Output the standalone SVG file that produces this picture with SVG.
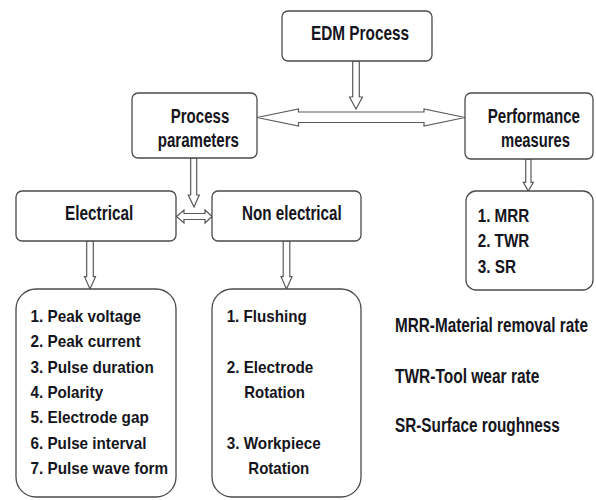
<svg xmlns="http://www.w3.org/2000/svg" width="596" height="500" viewBox="0 0 596 500">
<style>
  .box { fill: #ffffff; stroke: #4a4a4a; stroke-width: 1.3; }
  .arr { fill: #ffffff; stroke: #5a5a5a; stroke-width: 1.2; stroke-linejoin: miter; }
  text { font-family: "Liberation Sans", Arial, sans-serif; font-weight: bold; fill: #151520; }
  .t21 { font-size: 21px; }
  .t20 { font-size: 20px; }
  .t17 { font-size: 17px; }
  .t18 { font-size: 18px; }
</style>
<rect width="596" height="500" fill="#ffffff"/>

<g id="connectors">
  <polygon class="arr" points="352.7,61 359.3,61 359.3,97 362.5,97 356,109 349.5,97 352.7,97"/>
  <polygon class="arr" points="257,117.5 298.5,109 298.5,112 424,112 424,109 465,117.5 424,126 424,122.5 298.5,122.5 298.5,126"/>
  <polygon class="arr" points="190.7,158 196.7,158 196.7,195 199.3,195 194,207 188.3,195 190.7,195"/>
  <polygon class="arr" points="176.5,216.5 184,210 184,213.5 205,213.5 205,210 212,216.5 205,223 205,219.5 184,219.5 184,223"/>
  <polygon class="arr" points="86.7,241 93.3,241 93.3,276.7 95.5,276.7 90,289 84.5,276.7 86.7,276.7"/>
  <polygon class="arr" points="283.2,241 289.8,241 289.8,276.7 292,276.7 286.5,289 281,276.7 283.2,276.7"/>
  <polygon class="arr" points="525.7,159 531,159 531,182.3 533.3,182.3 528.3,191 523.3,182.3 525.7,182.3"/>
</g>

<g id="edm-process">
  <rect class="box" x="282" y="11" width="150" height="50" rx="6"/>
  <text class="t21" x="311" y="40" textLength="98" lengthAdjust="spacingAndGlyphs">EDM Process</text>
</g>

<g id="process-parameters">
  <rect class="box" x="132" y="93" width="125" height="65" rx="6"/>
  <text class="t20" x="170.7" y="123" textLength="58.6" lengthAdjust="spacingAndGlyphs">Process</text>
  <text class="t20" x="157.7" y="147" textLength="81.3" lengthAdjust="spacingAndGlyphs">parameters</text>
</g>

<g id="performance-measures">
  <rect class="box" x="465" y="93" width="128" height="66" rx="6"/>
  <text class="t20" transform="matrix(0.755 0 0 1 487.7 123)">Performance</text>
  <text class="t20" x="501" y="147" textLength="69" lengthAdjust="spacingAndGlyphs">measures</text>
</g>

<g id="electrical">
  <rect class="box" x="16" y="191" width="160" height="50" rx="6"/>
  <text class="t20" x="65" y="220" textLength="68.3" lengthAdjust="spacingAndGlyphs">Electrical</text>
</g>

<g id="non-electrical">
  <rect class="box" x="212" y="191" width="149" height="50" rx="6"/>
  <text class="t20" x="242" y="220" textLength="99.7" lengthAdjust="spacingAndGlyphs">Non electrical</text>
</g>

<g id="electrical-list">
  <rect class="box" x="16" y="289" width="160" height="208" rx="20"/>
  <text class="t17" x="30.5" y="322" textLength="110.5" lengthAdjust="spacingAndGlyphs">1. Peak voltage</text>
  <text class="t17" x="30.5" y="347.3" textLength="110" lengthAdjust="spacingAndGlyphs">2. Peak current</text>
  <text class="t17" x="30.5" y="372.6" textLength="123.3" lengthAdjust="spacingAndGlyphs">3. Pulse duration</text>
  <text class="t17" x="30.5" y="397.9" textLength="72.6" lengthAdjust="spacingAndGlyphs">4. Polarity</text>
  <text class="t17" x="30.5" y="423.2" textLength="118.3" lengthAdjust="spacingAndGlyphs">5. Electrode gap</text>
  <text class="t17" x="30.5" y="448.5" textLength="116" lengthAdjust="spacingAndGlyphs">6. Pulse interval</text>
  <text class="t17" x="30.5" y="473.8" textLength="137.6" lengthAdjust="spacingAndGlyphs">7. Pulse wave form</text>
</g>

<g id="non-electrical-list">
  <rect class="box" x="212" y="289" width="149" height="208" rx="20"/>
  <text class="t17" x="226.7" y="322" textLength="80" lengthAdjust="spacingAndGlyphs">1. Flushing</text>
  <text class="t17" x="226.7" y="373.3" textLength="86.6" lengthAdjust="spacingAndGlyphs">2. Electrode</text>
  <text class="t17" x="244.3" y="398.3" textLength="60.7" lengthAdjust="spacingAndGlyphs">Rotation</text>
  <text class="t17" x="226.7" y="449.3" textLength="94" lengthAdjust="spacingAndGlyphs">3. Workpiece</text>
  <text class="t17" x="248.3" y="474.3" textLength="61" lengthAdjust="spacingAndGlyphs">Rotation</text>
</g>

<g id="performance-list">
  <rect class="box" x="466" y="191" width="127" height="99" rx="10"/>
  <text class="t18" x="477.7" y="221.7" textLength="51.6" lengthAdjust="spacingAndGlyphs">1. MRR</text>
  <text class="t18" x="477.7" y="247" textLength="51.6" lengthAdjust="spacingAndGlyphs">2. TWR</text>
  <text class="t18" x="477.7" y="272.7" textLength="38.3" lengthAdjust="spacingAndGlyphs">3. SR</text>
</g>

<g id="legend">
  <text class="t21" transform="matrix(0.7286 0 0 1 395 332)">MRR-Material removal rate</text>
  <text class="t21" x="395" y="383.3" textLength="144.3" lengthAdjust="spacingAndGlyphs">TWR-Tool wear rate</text>
  <text class="t21" transform="matrix(0.7288 0 0 1 395 431.7)">SR-Surface roughness</text>
</g>
</svg>
